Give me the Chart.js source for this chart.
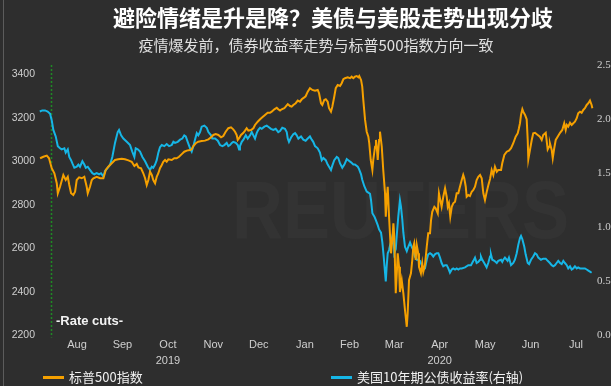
<!DOCTYPE html>
<html>
<head>
<meta charset="utf-8">
<script src="https://cdn.jsdelivr.net/npm/chart.js@4.4.1/dist/chart.umd.min.js"></script>
<style>
  html, body { margin: 0; padding: 0; background: #2e2e2e; }
  canvas { display: block; }
</style>
</head>
<body>
<canvas id="chart" width="611" height="386"></canvas>
<script>
// x values are days since 2019-07-31 (the first Fed rate cut)
const rateCutDay = 0;

const monthLabels = ['Aug', 'Sep', 'Oct', 'Nov', 'Dec', 'Jan', 'Feb', 'Mar', 'Apr', 'May', 'Jun', 'Jul'];
const yearLabels = ['', '', '2019', '', '', '', '', '', '2020', '', '', ''];

// S&P 500 (left axis)
const spxDays = [
  -8.3, -6.1, -3.8, -2.3, -0.5, 1.3, 2.9, 3.6, 5.1, 7.3,
  8.9, 10.3, 11.3, 12.5, 14.0, 15.2, 16.3, 17.9, 19.7, 21.4,
  23.0, 23.7, 25.2, 26.4, 27.5, 29.7, 32.0, 34.2, 35.8, 37.5,
  39.8, 42.0, 44.2, 46.5, 48.7, 51.0, 53.2, 55.0, 56.6, 57.7,
  59.5, 61.0, 62.2, 63.3, 64.4, 65.5, 66.7, 67.7, 68.9, 70.0,
  71.1, 72.2, 73.4, 74.4, 75.6, 76.7, 77.8, 80.1, 81.8, 83.4,
  85.0, 86.8, 88.5, 90.2, 92.4, 93.5, 94.6, 96.2, 97.9, 100.2,
  102.4, 104.7, 106.5, 108.0, 109.6, 111.4, 113.2, 114.7, 116.3, 118.1,
  119.9, 121.4, 122.6, 123.7, 124.4, 125.3, 126.6, 128.2, 129.3, 130.4,
  131.5, 133.3, 134.9, 136.0, 137.8, 139.4, 140.9, 142.7, 144.5, 146.1,
  147.2, 149.0, 150.6, 151.6, 152.8, 153.9, 155.7, 156.6, 158.0, 159.5,
  160.6, 161.7, 163.3, 164.7, 166.2, 167.4, 169.1, 170.0, 171.4, 172.9,
  174.5, 176.3, 178.1, 179.0, 180.3, 181.2, 182.5, 183.5, 184.8, 185.7,
  187.0, 187.9, 189.2, 190.2, 191.5, 193.1, 194.2, 195.3, 196.4, 198.2,
  199.8, 200.9, 202.0, 203.1, 204.3, 205.4, 206.0, 207.2, 208.0, 208.7,
  209.9, 211.0, 212.1, 212.7, 213.7, 214.8, 215.4, 216.6, 217.2, 217.9,
  218.4, 219.3, 219.9, 221.1, 222.1, 223.3, 223.8, 224.4, 225.1, 226.0,
  227.3, 228.2, 228.9, 229.5, 230.5, 231.3, 231.8, 232.7, 233.3, 234.5,
  235.6, 236.7, 237.9, 238.5, 239.4, 240.7, 241.6, 242.3, 242.9, 243.9,
  244.6, 245.6, 246.1, 247.4, 248.3, 249.0, 250.1, 251.3, 252.3, 253.5,
  254.2, 255.0, 256.4, 257.3, 258.7, 259.5, 260.4, 261.3, 262.4, 263.6,
  264.7, 265.4, 266.2, 267.1, 268.1, 269.1, 270.3, 271.4, 272.5, 273.6,
  274.8, 275.8, 276.5, 277.5, 278.1, 279.2, 280.3, 281.5, 282.6, 283.7,
  284.8, 285.9, 287.1, 288.2, 289.3, 290.4, 291.5, 292.6, 293.8, 294.9,
  296.0, 297.1, 298.3, 299.3, 301.2, 302.0, 303.4, 305.0, 306.5, 307.9,
  309.4, 311.0, 312.4, 313.2, 313.9, 314.6, 315.5, 316.1, 317.3, 318.4,
  319.1, 319.5, 320.6, 321.8, 322.8, 324.0, 325.8, 327.3, 328.5, 329.5,
  331.2, 332.5, 333.4, 334.0, 335.2, 335.9, 336.9, 337.9, 339.2, 340.8,
  342.3, 343.6, 344.6, 345.3, 346.3, 347.5, 348.6, 349.7, 350.8, 352.0,
  353.0, 354.2, 355.3, 356.4, 357.5, 358.7, 359.8, 360.9, 362.0, 362.5
];
const spxValues = [
  3015, 3022, 3027, 3015, 2969, 2946, 2900, 2854, 2884, 2938,
  2915, 2930, 2892, 2854, 2846, 2861, 2915, 2927, 2923, 2930,
  2884, 2854, 2884, 2915, 2923, 2930, 2923, 2923, 2961, 2976,
  2992, 3007, 3010, 3013, 3010, 3005, 2999, 2979, 2989, 2973,
  2969, 2946, 2923, 2892, 2915, 2953, 2938, 2915, 2900, 2930,
  2946, 2969, 2984, 2999, 3007, 2999, 3010, 3007, 3015, 3015,
  3022, 3034, 3045, 3050, 3053, 3056, 3071, 3084, 3091, 3094,
  3096, 3102, 3111, 3122, 3126, 3122, 3111, 3117, 3137, 3153,
  3157, 3148, 3137, 3122, 3099, 3107, 3122, 3132, 3142, 3153,
  3142, 3145, 3153, 3168, 3183, 3194, 3203, 3214, 3224, 3224,
  3229, 3240, 3247, 3240, 3234, 3240, 3245, 3252, 3264, 3255,
  3252, 3260, 3268, 3280, 3275, 3286, 3295, 3300, 3321, 3337,
  3329, 3326, 3329, 3314, 3268, 3260, 3283, 3286, 3275, 3245,
  3229, 3252, 3298, 3337, 3352, 3347, 3360, 3378, 3383, 3387,
  3383, 3390, 3383, 3390, 3393, 3387, 3393, 3375, 3344, 3283,
  3191, 3137, 3114, 3084, 3007, 2961, 3007, 3068, 3099, 3053,
  3007, 3099, 3137, 3068, 2961, 2854, 2746, 2823, 2884, 2746,
  2578, 2639, 2716, 2654, 2394, 2500, 2578, 2516, 2400, 2455,
  2394, 2317, 2240, 2302, 2455, 2486, 2547, 2608, 2624, 2547,
  2616, 2578, 2516, 2486, 2532, 2493, 2524, 2608, 2670, 2670,
  2731, 2769, 2792, 2785, 2762, 2854, 2823, 2792, 2838, 2877,
  2838, 2792, 2808, 2746, 2792, 2808, 2815, 2854, 2854, 2884,
  2915, 2938, 2923, 2884, 2838, 2846, 2841, 2861, 2869, 2884,
  2915, 2930, 2938, 2923, 2854, 2823, 2858, 2890, 2920, 2961,
  2938, 2976, 2953, 2961, 2961, 2992, 3030, 3045, 3050, 3061,
  3084, 3114, 3130, 3153, 3176, 3214, 3240, 3229, 3214, 3194,
  3099, 3010, 3053, 3099, 3130, 3132, 3122, 3114, 3099, 3122,
  3132, 3056, 3068, 3084, 3053, 3015, 3061, 3099, 3114, 3132,
  3145, 3176, 3145, 3168, 3160, 3178, 3168, 3176, 3183, 3199,
  3222, 3229, 3224, 3237, 3245, 3260, 3268, 3280, 3260, 3245
];

// US 10-year Treasury yield, % (right axis)
const yieldDays = [
  -8.5, -6.8, -5.0, -3.2, -1.6, -0.5, 0.6, 2.2, 3.6, 5.1,
  6.2, 8.0, 8.9, 10.3, 11.3, 12.5, 13.4, 14.7, 16.3, 17.4,
  18.5, 20.1, 21.4, 22.4, 23.7, 25.2, 26.8, 28.1, 29.7, 31.3,
  32.6, 34.2, 35.3, 37.1, 38.7, 40.2, 42.0, 43.8, 44.7, 46.1,
  47.6, 49.9, 52.1, 53.6, 55.0, 55.9, 57.3, 58.8, 60.4, 62.2,
  64.0, 65.5, 66.7, 67.7, 68.9, 70.0, 71.1, 72.2, 73.4, 75.1,
  76.7, 78.3, 80.1, 81.2, 82.3, 84.1, 85.7, 87.2, 88.5, 89.5,
  90.8, 92.4, 93.5, 94.6, 95.7, 96.9, 97.9, 99.1, 100.2, 102.0,
  103.6, 104.7, 106.5, 107.3, 109.2, 111.0, 112.5, 114.1, 115.4, 117.0,
  118.1, 119.2, 120.4, 121.4, 123.1, 124.4, 125.3, 125.9, 127.1, 128.2,
  129.8, 131.1, 132.7, 133.8, 134.9, 136.0, 137.1, 138.2, 139.4, 140.5,
  142.3, 143.9, 144.9, 146.7, 148.3, 149.9, 151.6, 152.8, 154.3, 156.1,
  157.3, 158.0, 158.8, 160.2, 161.7, 162.9, 164.0, 165.1, 166.9, 168.4,
  170.0, 171.4, 172.9, 174.1, 175.1, 176.3, 178.1, 179.6, 180.8, 181.9,
  183.5, 184.8, 185.7, 187.0, 187.9, 189.2, 190.9, 191.9, 193.1, 194.6,
  196.0, 197.6, 198.6, 200.5, 202.0, 203.1, 205.0, 205.8, 207.2, 208.0,
  209.4, 211.0, 212.1, 213.2, 213.9, 214.8, 216.1, 217.0, 218.4, 219.3,
  220.6, 221.5, 222.4, 223.3, 223.8, 224.4, 225.1, 226.0, 226.8, 227.8,
  228.9, 229.5, 230.5, 231.3, 232.2, 233.3, 234.0, 234.9, 235.6, 236.7,
  237.9, 238.9, 240.1, 241.2, 242.3, 243.4, 244.6, 245.6, 246.8, 247.9,
  249.0, 250.1, 251.3, 252.3, 253.5, 254.6, 255.7, 256.8, 258.0, 259.1,
  260.2, 261.3, 262.4, 263.6, 264.7, 265.8, 266.9, 268.1, 269.1, 270.3,
  271.4, 272.5, 273.6, 274.8, 277.0, 279.2, 281.0, 282.6, 283.7, 284.8,
  285.9, 287.1, 287.7, 288.6, 289.9, 291.5, 292.6, 293.8, 294.4, 295.3,
  296.7, 298.3, 299.3, 301.2, 302.0, 302.7, 303.8, 305.0, 305.6, 306.5,
  307.9, 309.4, 310.5, 311.7, 312.8, 313.9, 314.6, 315.5, 316.8, 317.7,
  319.1, 320.0, 321.3, 322.8, 324.0, 325.1, 326.2, 328.0, 329.5, 331.2,
  332.5, 334.0, 335.2, 336.3, 337.4, 338.5, 339.6, 340.8, 341.9, 343.0,
  344.1, 345.3, 346.3, 347.5, 348.6, 349.7, 350.8, 352.0, 353.0, 354.2,
  355.3, 356.4, 357.5, 358.7, 359.8, 360.9, 362.0
];
const yieldValues = [
  2.07, 2.08, 2.08, 2.07, 2.05, 1.99, 1.90, 1.84, 1.75, 1.73,
  1.72, 1.73, 1.69, 1.72, 1.65, 1.62, 1.59, 1.55, 1.56, 1.58,
  1.56, 1.61, 1.58, 1.55, 1.56, 1.53, 1.50, 1.49, 1.50, 1.49,
  1.50, 1.47, 1.52, 1.55, 1.58, 1.65, 1.78, 1.88, 1.90, 1.85,
  1.82, 1.79, 1.76, 1.70, 1.65, 1.73, 1.72, 1.70, 1.65, 1.61,
  1.56, 1.53, 1.56, 1.55, 1.58, 1.62, 1.69, 1.74, 1.76, 1.75,
  1.77, 1.75, 1.76, 1.79, 1.78, 1.79, 1.81, 1.82, 1.85, 1.84,
  1.79, 1.73, 1.70, 1.75, 1.81, 1.87, 1.85, 1.88, 1.93, 1.94,
  1.92, 1.88, 1.85, 1.82, 1.82, 1.80, 1.76, 1.75, 1.76, 1.78,
  1.75, 1.76, 1.78, 1.79, 1.78, 1.76, 1.72, 1.75, 1.79, 1.81,
  1.85, 1.82, 1.85, 1.88, 1.85, 1.82, 1.87, 1.90, 1.92, 1.91,
  1.93, 1.94, 1.93, 1.91, 1.90, 1.91, 1.88, 1.89, 1.92, 1.91,
  1.88, 1.82, 1.79, 1.83, 1.86, 1.87, 1.85, 1.82, 1.84, 1.81,
  1.80, 1.82, 1.84, 1.81, 1.79, 1.75, 1.73, 1.69, 1.62, 1.64,
  1.62, 1.58, 1.56, 1.53, 1.57, 1.62, 1.65, 1.64, 1.59, 1.55,
  1.58, 1.63, 1.62, 1.60, 1.58, 1.58, 1.56, 1.54, 1.49, 1.44,
  1.38, 1.33, 1.32, 1.31, 1.25, 1.13, 1.10, 1.07, 1.02, 0.98,
  0.95, 0.86, 0.73, 0.58, 0.50, 0.64, 0.76, 0.79, 0.84, 0.89,
  0.96, 0.76, 0.80, 0.95, 1.10, 1.25, 1.19, 1.07, 0.95, 0.82,
  0.78, 0.82, 0.86, 0.82, 0.79, 0.73, 0.70, 0.70, 0.69, 0.65,
  0.61, 0.62, 0.70, 0.75, 0.76, 0.75, 0.73, 0.75, 0.76, 0.76,
  0.72, 0.67, 0.64, 0.65, 0.65, 0.62, 0.58, 0.61, 0.62, 0.61,
  0.62, 0.61, 0.62, 0.62, 0.63, 0.65, 0.65, 0.69, 0.72, 0.67,
  0.68, 0.70, 0.73, 0.70, 0.67, 0.63, 0.67, 0.73, 0.75, 0.70,
  0.69, 0.67, 0.69, 0.70, 0.68, 0.70, 0.72, 0.70, 0.69, 0.72,
  0.65, 0.67, 0.70, 0.76, 0.84, 0.90, 0.92, 0.89, 0.82, 0.75,
  0.67, 0.66, 0.70, 0.73, 0.76, 0.75, 0.72, 0.70, 0.71, 0.71,
  0.69, 0.67, 0.65, 0.64, 0.65, 0.67, 0.69, 0.67, 0.66, 0.69,
  0.67, 0.65, 0.62, 0.64, 0.61, 0.62, 0.64, 0.62, 0.63, 0.62,
  0.62, 0.62, 0.62, 0.61, 0.60, 0.59, 0.58
];

const BG = '#2e2e2e';
const ORANGE = '#f5a000';
const BLUE = '#16b6e6';
const TICK = '#cfcfcf';
const CJK = '"Noto Sans CJK SC", "Noto Sans", sans-serif';

// tick at the middle of each month
const base = Date.UTC(2019, 6, 31);
const monthCenters = monthLabels.map((m, i) => {
  const y = 2019 + Math.floor((7 + i) / 12);
  const mo = (7 + i) % 12;
  const start = Date.UTC(y, mo, 1);
  const end = Date.UTC(y, mo + 1, 1);
  return ((start + end) / 2 - base) / 86400000;
});

const toPoints = (xs, ys) => xs.map((x, i) => ({ x: x, y: ys[i] }));

const decor = {
  id: 'decor',
  beforeDraw(chart) {
    const ctx = chart.ctx;
    ctx.save();
    ctx.fillStyle = BG;
    ctx.fillRect(0, 0, chart.width, chart.height);
    ctx.strokeStyle = '#5c5c5c';
    ctx.lineWidth = 1;
    ctx.beginPath();
    ctx.moveTo(3.5, 0);
    ctx.lineTo(3.5, chart.height);
    ctx.stroke();
    // faint agency watermark
    ctx.fillStyle = 'rgba(255,255,255,0.028)';
    ctx.font = '700 82px "Liberation Sans", sans-serif';
    ctx.textBaseline = 'alphabetic';
    ctx.translate(232, 238);
    ctx.scale(0.86, 1);
    ctx.fillText('REUTERS', 0, 0);
    ctx.restore();
  },
  beforeDatasetsDraw(chart) {
    const ctx = chart.ctx;
    const area = chart.chartArea;
    const x = Math.round(chart.scales.x.getPixelForValue(rateCutDay)) - 0.5;
    ctx.save();
    ctx.strokeStyle = '#1f8a24';
    ctx.lineWidth = 1.5;
    ctx.setLineDash([2, 2]);
    ctx.beginPath();
    ctx.moveTo(x, area.top);
    ctx.lineTo(x, area.bottom + 2);
    ctx.stroke();
    ctx.restore();
  },
  afterDraw(chart) {
    const ctx = chart.ctx;
    ctx.save();
    ctx.textBaseline = 'middle';
    ctx.textAlign = 'center';
    ctx.fillStyle = '#ffffff';
    ctx.font = '700 22px ' + CJK;
    ctx.fillText('避险情绪是升是降？美债与美股走势出现分歧', 333, 18);
    ctx.fillStyle = '#e0e0e0';
    ctx.font = '15px ' + CJK;
    ctx.fillText('疫情爆发前，债券收益率走势与标普500指数方向一致', 316, 45);

    ctx.textAlign = 'left';
    ctx.fillStyle = '#f2f2f2';
    ctx.font = '700 13px "Liberation Sans", sans-serif';
    ctx.fillText('-Rate cuts-', 56, 321);

    // legend
    const items = [
      { label: chart.data.datasets[0].label, color: ORANGE, x: 43 },
      { label: chart.data.datasets[1].label, color: BLUE, x: 331 }
    ];
    ctx.font = '13px ' + CJK;
    items.forEach(it => {
      ctx.strokeStyle = it.color;
      ctx.lineWidth = 3;
      ctx.beginPath();
      ctx.moveTo(it.x, 377.5);
      ctx.lineTo(it.x + 21, 377.5);
      ctx.stroke();
      ctx.fillStyle = '#f0f0f0';
      ctx.fillText(it.label, it.x + 26, 377);
    });
    ctx.restore();
  }
};

new Chart(document.getElementById('chart'), {
  type: 'line',
  data: {
    datasets: [
      {
        label: '标普500指数',
        data: toPoints(spxDays, spxValues),
        yAxisID: 'y',
        borderColor: ORANGE,
        borderWidth: 2,
        pointRadius: 0,
        tension: 0
      },
      {
        label: '美国10年期公债收益率(右轴)',
        data: toPoints(yieldDays, yieldValues),
        yAxisID: 'y1',
        borderColor: BLUE,
        borderWidth: 2,
        pointRadius: 0,
        tension: 0
      }
    ]
  },
  options: {
    responsive: false,
    animation: false,
    layout: { padding: { top: 65, bottom: 15.5, left: 0, right: 0 } },
    plugins: {
      legend: { display: false },
      tooltip: { enabled: false }
    },
    scales: {
      x: {
        type: 'linear',
        min: -9.7,
        max: 363.6,
        grid: { display: false, drawTicks: false },
        border: { display: false },
        afterBuildTicks: scale => { scale.ticks = monthCenters.map(v => ({ value: v })); },
        afterFit: scale => { scale.height = 35; },
        ticks: {
          autoSkip: false,
          maxRotation: 0,
          padding: 1,
          color: TICK,
          font: { family: '"Liberation Sans", sans-serif', size: 11, lineHeight: '16px' },
          callback: (v, i) => yearLabels[i] ? [monthLabels[i], yearLabels[i]] : monthLabels[i]
        }
      },
      y: {
        position: 'left',
        min: 2200,
        max: 3443.7,
        grid: { display: false, drawTicks: false },
        border: { display: false },
        afterFit: scale => { scale.width = 38; },
        ticks: {
          stepSize: 200,
          includeBounds: false,
          padding: 3,
          color: TICK,
          font: { family: '"Liberation Sans", sans-serif', size: 10.5 },
          callback: v => String(v)
        }
      },
      y1: {
        position: 'right',
        min: 0,
        max: 2.5,
        grid: { display: false, drawTicks: false },
        border: { display: false },
        afterFit: scale => { scale.width = 17; },
        ticks: {
          stepSize: 0.5,
          padding: 3,
          color: TICK,
          font: { family: '"Liberation Serif", serif', size: 11 },
          callback: v => v.toFixed(1)
        }
      }
    }
  },
  plugins: [decor]
});
</script>
</body>
</html>
